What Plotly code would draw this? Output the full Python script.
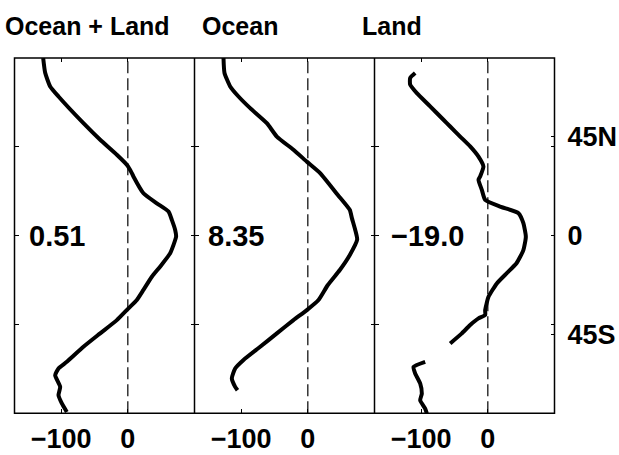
import plotly.graph_objects as go

# ---- data (latitude in degrees, value) ----
lat_all = [90, 82.5, 75.6, 70.5, 57, 48.6, 41, 35.9, 31.7, 30, 21.5, 16.4, 12.2, 8, 2.9, -0.5,
           -9, -15.7, -20.8, -27.5, -32.6, -36.8, -42.8, -49.5, -56.3, -63.9, -67.3, -70.7,
           -76.6, -80.8, -85, -89.3]
val_all = [-127, -124, -116.5, -104, -66.6, -41.5, -16.5, -1.5, 6, 8.4, 23.4, 43.5, 61, 66, 71, 72.4,
           63.4, 48.4, 36, 23.4, 13.5, 1, -16.5, -41.5, -66.6, -91.5, -104, -109,
           -101.5, -104, -99, -91.5]

lat_ocean = [90, 82.4, 75.6, 70.5, 64.6, 57, 50.2, 43.5, 37.5, 31.7, 20.6, 13, 9, 3, -2,
             -9.8, -17.4, -25, -32.6, -37.7, -42.8, -49.5, -56.3, -63, -67.3, -72.3, -76.6, -78.3]
val_ocean = [-126.5, -125, -116.5, -104, -86.5, -61.5, -46.5, -21.6, -1.5, 18.4, 45, 63, 66, 71, 74,
             63, 48, 30, 16, -1.5, -21.6, -46.5, -71.5, -96.5, -109, -114, -109, -105.5]

lat_land = [82.4, 79.9, 76.5, 72.2, 65.5, 58.7, 55.3, 50.2, 45.2, 40, 35, 30, 28.3, 23.2, 18.1,
            14.7, 11.4, 6.3, -0.5, -7.3, -14, -19, -24.2, -31, -37.7, -40.2, -41.9, -45.3,
            -49.5, -54.6, None, -63.9, -66.5, -69.8, -74.9, -80, -83.4, -87.6, -90]
val_land = [-109, -116.5, -116.5, -106.5, -86.5, -66.6, -56.5, -41.5, -26.5, -14, -6.6, -11.5, -14,
            -9, -4, 18.4, 46, 53.3, 57, 53.3, 43, 28.5, 13.5, 1, -4, -4, -14, -26.5,
            -39, -56.5, None, -94, -111.5, -109, -101.5, -99, -101.5, -94, -91.5]

panel_titles = ["Ocean + Land", "Ocean", "Land"]
panel_values = ["0.51", "8.35", "\u221219.0"]
x_ticks = [-100, 0]
x_ticklabels = ["\u2212100", "0"]
y_ticks = [-45, 0, 45]
right_ticks = [-50, 0, 50]
right_ticklabels = ["45S", "0", "45N"]
zero_x = [0, 0]
zero_y = [-90, 90]

W, H = 619, 455
FONT = "Liberation Sans, Arial, sans-serif"

series = [(lat_all, val_all), (lat_ocean, val_ocean), (lat_land, val_land)]
panel_px = [(14.5, 194.5), (194.5, 374.5), (374.5, 554.5)]
y_dom = [(H - 413.3) / H, (H - 58) / H]

fig = go.Figure()
for i, (lat, val) in enumerate(series):
    xa = "x" if i == 0 else f"x{i+1}"
    ya = "y" if i == 0 else f"y{i+1}"
    fig.add_trace(go.Scatter(x=zero_x, y=zero_y, mode="lines", xaxis=xa, yaxis=ya,
                             line=dict(color="black", width=1.2, dash="12px,5px"),
                             hoverinfo="skip"))
    fig.add_trace(go.Scatter(x=val, y=lat, mode="lines", xaxis=xa, yaxis=ya,
                             line=dict(color="black", width=4, shape="spline", smoothing=0.5),
                             connectgaps=False))

for i in range(3):
    k = "" if i == 0 else str(i + 1)
    x0, x1 = panel_px[i]
    fig.layout["xaxis" + k] = dict(
        domain=[x0 / W, x1 / W], range=[-170, 100], anchor="y" + k,
        tickvals=x_ticks, ticktext=x_ticklabels, ticks="inside", ticklen=4,
        tickcolor="black", showline=False, mirror="ticks", showgrid=False, zeroline=False,
        ticklabelstandoff=7,
        tickfont=dict(family=FONT, size=27, color="black", weight="bold"),
    )
    fig.layout["yaxis" + k] = dict(
        domain=y_dom, range=[-90, 90], anchor="x" + k,
        tickvals=y_ticks, showticklabels=False, ticks="inside", ticklen=4,
        tickcolor="black", showline=False, mirror="ticks", showgrid=False, zeroline=False,
    )

# right-side latitude labels on the third panel
fig.layout["yaxis4"] = dict(
    overlaying="y3", anchor="x3", side="right", range=[-90, 90],
    tickvals=right_ticks, ticktext=right_ticklabels, ticks="inside", ticklen=4,
    tickcolor="black", showgrid=False, zeroline=False, showline=False,
    ticklabelstandoff=12,
    tickfont=dict(family=FONT, size=27, color="black", weight="bold"),
)
fig.add_trace(go.Scatter(x=[None], y=[None], xaxis="x3", yaxis="y4", showlegend=False))

# panel frames
fig.add_shape(type="rect", xref="paper", yref="paper",
              x0=panel_px[0][0] / W, x1=panel_px[2][1] / W, y0=y_dom[0], y1=y_dom[1],
              line=dict(color="black", width=1.5))
for x0, _ in panel_px[1:]:
    fig.add_shape(type="line", xref="paper", yref="paper",
                  x0=x0 / W, x1=x0 / W, y0=y_dom[0], y1=y_dom[1],
                  line=dict(color="black", width=1.5))

title_px = [87, 240, 391.5]
for i, t in enumerate(panel_titles):
    fig.add_annotation(text=t, x=title_px[i] / W, y=(H - 26) / H, xref="paper", yref="paper",
                       showarrow=False, xanchor="center", yanchor="middle",
                       font=dict(family=FONT, size=25, color="black", weight="bold"))

val_px = [57.5, 236, 427.5]
for i, t in enumerate(panel_values):
    fig.add_annotation(text=t, x=val_px[i] / W, y=(H - 236) / H, xref="paper", yref="paper",
                       showarrow=False, xanchor="center", yanchor="middle",
                       font=dict(family=FONT, size=29, color="black", weight="bold"))

fig.update_layout(width=W, height=H, margin=dict(l=0, r=0, t=0, b=0),
                  paper_bgcolor="white", plot_bgcolor="white", showlegend=False)

fig.write_html("out.html")
